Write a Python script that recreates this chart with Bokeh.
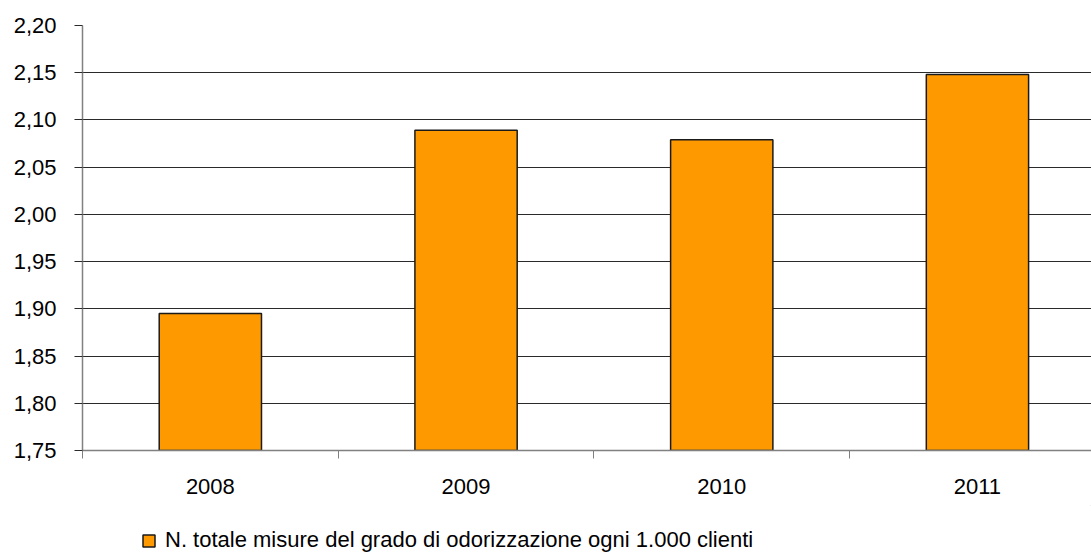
from bokeh.plotting import figure
from bokeh.layouts import column
from bokeh.models import (Range1d, FixedTicker, CustomJSTickFormatter, Legend,
                          LegendItem, ColumnDataSource)
from bokeh.embed import file_html
from bokeh.resources import INLINE

# Data
years = ["2008", "2009", "2010", "2011"]
values = [1.895, 2.089, 2.079, 2.148]
series_name = "N. totale misure del grado di odorizzazione ogni 1.000 clienti"
y_ticks = [1.75, 1.80, 1.85, 1.90, 1.95, 2.00, 2.05, 2.10, 2.15, 2.20]

FONT = "Liberation Sans"
FONT_SIZE = "22px"
BAR_FILL = "#FF9900"
BAR_LINE = "#1a1a1a"

positions = list(range(1, len(years) + 1))
source = ColumnDataSource(dict(x=positions, top=values, year=years))

W = 1091
CHART_H, LEGEND_H = 505, 48
left, top_b = 82, 25
bottom_b = 55
cat_px = 255.7
frame_w = W - left

p = figure(width=W, height=CHART_H, output_backend="svg", toolbar_location=None,
           x_range=Range1d(0.5, 0.5 + frame_w / cat_px),
           y_range=Range1d(y_ticks[0], y_ticks[-1]),
           min_border_left=left, min_border_right=0,
           min_border_top=top_b, min_border_bottom=bottom_b,
           background_fill_color="white", border_fill_color="white")
p.outline_line_color = None

bars = p.vbar(x="x", top="top", bottom=y_ticks[0], width=0.4, source=source,
              fill_color=BAR_FILL, line_color=BAR_LINE, line_width=1.5)

# Horizontal grid only
p.xgrid.grid_line_color = None
p.ygrid.ticker = FixedTicker(ticks=y_ticks)
p.ygrid.grid_line_color = "#2a2a2a"
p.ygrid.grid_line_width = 1

# Y axis
yax = p.yaxis[0]
yax.ticker = FixedTicker(ticks=y_ticks)
yax.formatter = CustomJSTickFormatter(code="return tick.toFixed(2).replace('.', ',')")
yax.axis_line_color = "#808080"
yax.axis_line_width = 1.5
yax.major_tick_out = 8
yax.major_tick_in = 0
yax.major_tick_line_color = "#2a2a2a"
yax.minor_tick_line_color = None
yax.major_label_standoff = 18
yax.major_label_text_font = FONT
yax.major_label_text_font_size = FONT_SIZE
yax.major_label_text_color = "black"

# X axis: labels at category centres, tick marks at category boundaries
boundaries = [i + 0.5 for i in range(len(years) + 1)]
xax = p.xaxis[0]
xax.ticker = FixedTicker(ticks=positions, minor_ticks=boundaries)
xax.major_label_overrides = {pos: yr for pos, yr in zip(positions, years)}
xax.axis_line_color = "#808080"
xax.axis_line_width = 1.5
xax.major_tick_out = 0
xax.major_tick_in = 0
xax.minor_tick_out = 8
xax.minor_tick_in = 0
xax.minor_tick_line_color = "#808080"
xax.minor_tick_line_width = 1
xax.major_label_standoff = 20
xax.major_label_text_font = FONT
xax.major_label_text_font_size = FONT_SIZE
xax.major_label_text_color = "black"

# Legend strip under the chart; the swatch renderer sits outside its view
leg = figure(width=W, height=LEGEND_H, output_backend="svg", toolbar_location=None,
             x_range=Range1d(0, 1), y_range=Range1d(0, 1),
             min_border=0, background_fill_color="white", border_fill_color="white")
leg.axis.visible = False
leg.grid.visible = False
leg.outline_line_color = None
swatch = leg.vbar(x=[5], top=[5], bottom=4, width=1, fill_color=BAR_FILL,
                  line_color=BAR_LINE, line_width=1.5)

legend = Legend(items=[LegendItem(label=series_name, renderers=[swatch])],
                location=(59, 0), orientation="horizontal",
                padding=0, margin=0, spacing=0,
                glyph_width=15, glyph_height=15, label_standoff=9,
                label_text_font=FONT, label_text_font_size=FONT_SIZE,
                label_text_color="black",
                border_line_color=None, background_fill_alpha=0)
leg.add_layout(legend, "center")

open("out.html", "w").write(file_html(column(p, leg, spacing=0), INLINE))
